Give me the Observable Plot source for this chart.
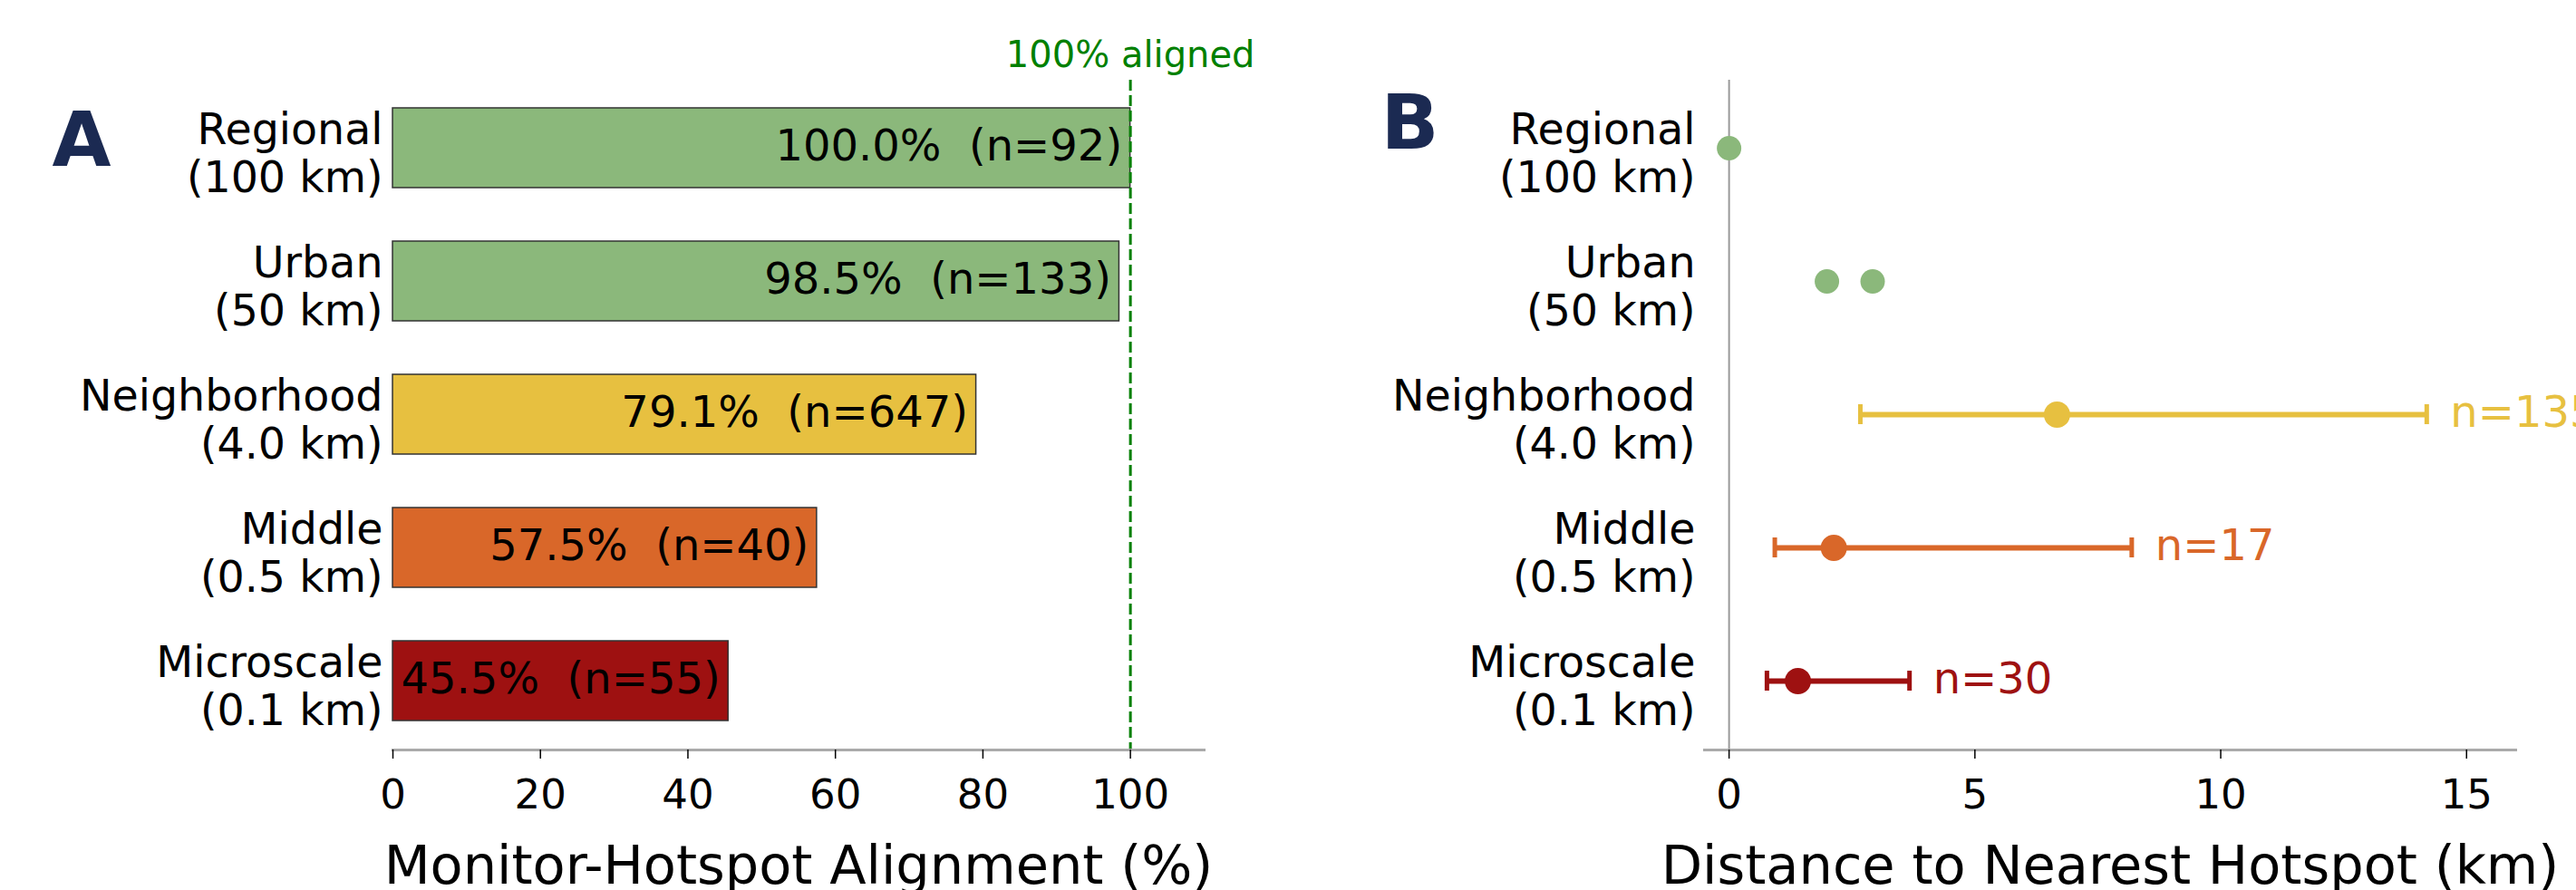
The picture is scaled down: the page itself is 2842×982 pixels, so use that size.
<!DOCTYPE html>
<html><head><meta charset="utf-8">
<script src="https://cdn.jsdelivr.net/npm/d3@7"></script>
<script src="https://cdn.jsdelivr.net/npm/@observablehq/plot@0.6"></script>
<style>
html,body{margin:0;padding:0;background:#fff;overflow:hidden;}
#wrap{position:relative;width:2842px;height:982px;overflow:hidden;}
#a,#b{position:absolute;top:0;}
#a{left:0;} #b{left:1400px;}
</style></head><body>
<div id="wrap"><div id="a"></div><div id="b"></div></div>
<script>
// ---- data ----
const categories = ["Regional\n(100 km)", "Urban\n(50 km)", "Neighborhood\n(4.0 km)", "Middle\n(0.5 km)", "Microscale\n(0.1 km)"];
const categoryColors = ["#8bb87b", "#8bb87b", "#e7c040", "#d96729", "#9e1111"];
const alignmentPct = [100.0, 98.5, 79.1, 57.5, 45.5];
const monitorCounts = [92, 133, 647, 40, 55];
const ticksA = [0, 20, 40, 60, 80, 100];
const ticksB = [0, 5, 10, 15];
// panel B: individual distances (small groups)
const pointCategory = ["Regional\n(100 km)", "Urban\n(50 km)", "Urban\n(50 km)"];
const pointDistance = [0, 1.99, 2.92];
// panel B: median with range
const errCategory = ["Neighborhood\n(4.0 km)", "Middle\n(0.5 km)", "Microscale\n(0.1 km)"];
const medianDistance = [6.67, 2.13, 1.40];
const lowDistance = [2.67, 0.93, 0.77];
const highDistance = [14.19, 8.19, 3.67];
const hotspotCounts = [135, 17, 30];
const titleA = "Monitor-Hotspot Alignment (%)";
const titleB = "Distance to Nearest Hotspot (km)";

const rowsA = categories.map((c, i) => ({cat: c, pct: alignmentPct[i], n: monitorCounts[i]}));
const pts = pointCategory.map((c, i) => ({cat: c, d: pointDistance[i]}));
const errs = errCategory.map((c, i) => ({cat: c, med: medianDistance[i], lo: lowDistance[i], hi: highDistance[i], n: hotspotCounts[i]}));
const caps = errs.flatMap(e => [{cat: e.cat, v: e.lo}, {cat: e.cat, v: e.hi}]);

const font = '"DejaVu Sans", sans-serif';
const yScale = {domain: categories, paddingInner: 0.4, paddingOuter: 0.2};
const colorScale = {domain: categories, range: categoryColors};
const catFont = 47.5, catLH = 1.105, tickFont = 45, titleFont = 59;

const plotA = Plot.plot({
  width: 1400, height: 982,
  marginLeft: 433, marginRight: 72, marginTop: 88, marginBottom: 155,
  style: {fontFamily: font, background: "transparent", overflow: "visible"},
  x: {domain: [0, 110]},
  y: yScale,
  color: colorScale,
  marks: [
    Plot.barX(rowsA, {x: "pct", y: "cat", fill: "cat", stroke: "#333", strokeWidth: 1.5}),
    Plot.text(rowsA, {x: "pct", y: "cat", text: d => `${d.pct.toFixed(1)}%\u00a0\u00a0(n=${d.n})`, textAnchor: "end", dx: -9, dy: -2, fontSize: 48, fill: "black"}),
    Plot.ruleX([100], {stroke: "#008000", strokeWidth: 3, strokeDasharray: "12,5"}),
    Plot.text(["100% aligned"], {x: 100, text: d => d, frameAnchor: "top", dy: -15, lineAnchor: "bottom", fill: "#008000", fontSize: 40}),
    Plot.frame({anchor: "bottom", stroke: "#aaa", strokeWidth: 3}),
    Plot.axisY({tickSize: 0, tickPadding: 11, fontSize: catFont, lineHeight: catLH, dy: 5, label: null, color: "black"}),
    Plot.axisX({ticks: ticksA, tickSize: 10, tickPadding: 23, fontSize: tickFont, label: null, color: "black", strokeWidth: 1.5}),
    Plot.text([titleA], {text: d => d, frameAnchor: "bottom", dy: 147, fontSize: titleFont, fill: "black"}),
    Plot.text(["A"], {text: d => d, frameAnchor: "top-left", textAnchor: "start", lineAnchor: "bottom", dx: -376, dy: 94, fontSize: 84, fontWeight: "bold", fill: "#1b2a52"})
  ]
});
document.getElementById("a").append(plotA);

const plotB = Plot.plot({
  width: 1442, height: 982,
  marginLeft: 480, marginRight: 67, marginTop: 88, marginBottom: 155,
  style: {fontFamily: font, background: "transparent", overflow: "visible"},
  x: {domain: [-0.5, 16]},
  y: yScale,
  color: colorScale,
  marks: [
    Plot.ruleX([0], {stroke: "#999", strokeWidth: 2}),
    Plot.frame({anchor: "bottom", stroke: "#aaa", strokeWidth: 3}),
    Plot.ruleY(errs, {x1: "lo", x2: "hi", y: "cat", stroke: "cat", strokeWidth: 6}),
    Plot.tickX(caps, {x: "v", y: "cat", stroke: "cat", strokeWidth: 5, insetTop: 33, insetBottom: 33}),
    Plot.dot(errs, {x: "med", y: "cat", fill: "cat", r: 14.5}),
    Plot.dot(pts, {x: "d", y: "cat", fill: "cat", r: 13.5}),
    Plot.text(errs, {x: "hi", y: "cat", text: d => `n=${d.n}`, fill: "cat", textAnchor: "start", dx: 26, dy: -2, fontSize: 48}),
    Plot.axisY({tickSize: 0, tickPadding: 10, fontSize: catFont, lineHeight: catLH, dy: 5, label: null, color: "black"}),
    Plot.axisX({ticks: ticksB, tickSize: 10, tickPadding: 23, fontSize: tickFont, label: null, color: "black", strokeWidth: 1.5}),
    Plot.text([titleB], {text: d => d, frameAnchor: "bottom", dy: 147, fontSize: titleFont, fill: "black"}),
    Plot.text(["B"], {text: d => d, frameAnchor: "top-left", textAnchor: "start", lineAnchor: "bottom", dx: -357, dy: 75, fontSize: 84, fontWeight: "bold", fill: "#1b2a52"})
  ]
});
document.getElementById("b").append(plotB);
</script>
</body></html>
